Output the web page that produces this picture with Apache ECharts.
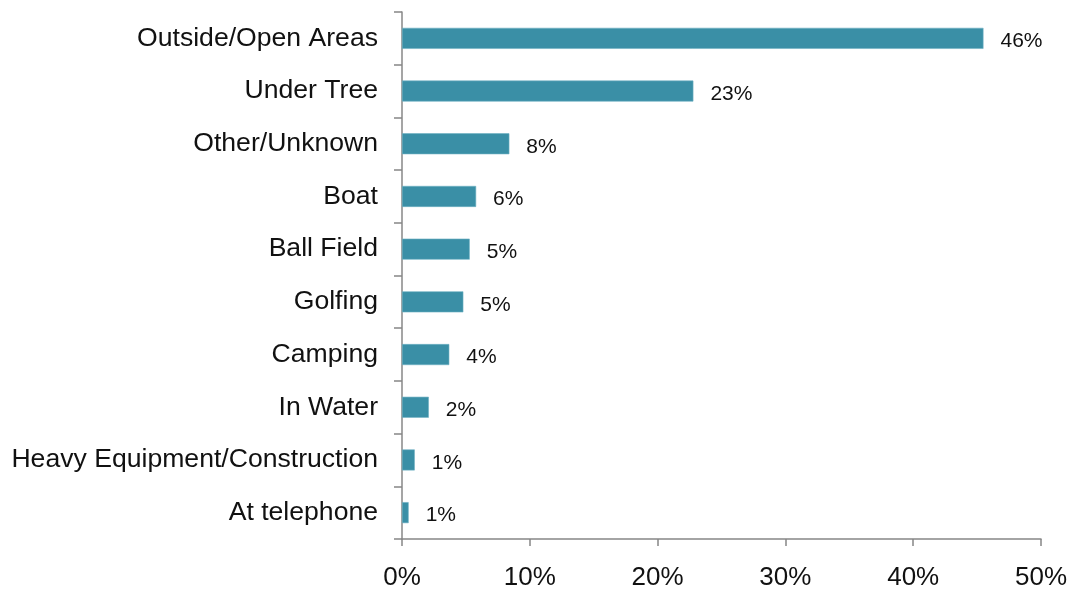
<!DOCTYPE html>
<html>
<head>
<meta charset="utf-8">
<script src="https://cdn.jsdelivr.net/npm/echarts@6/dist/echarts.min.js"></script>
<style>
html,body{margin:0;padding:0;background:#fff;}
#chart{width:1070px;height:591px;}
</style>
</head>
<body>
<div id="chart"></div>
<script>
var categories = ["Outside/Open Areas","Under Tree","Other/Unknown","Boat","Ball Field","Golfing","Camping","In Water","Heavy Equipment/Construction","At telephone"];
var values = [45.5, 22.8, 8.4, 5.8, 5.3, 4.8, 3.7, 2.1, 1.0, 0.52];
var xTicks = [0, 10, 20, 30, 40, 50];

var chart = echarts.init(document.getElementById('chart'));
var axisColor = '#878787';
chart.setOption({
  animation: false,
  grid: {left: 402, right: 28, top: 12, bottom: 51, containLabel: false},
  xAxis: {
    type: 'value',
    min: xTicks[0],
    max: xTicks[xTicks.length - 1],
    interval: 10,
    splitLine: {show: false},
    axisLine: {show: true, lineStyle: {color: axisColor, width: 1.5}},
    axisTick: {show: true, length: 7, lineStyle: {color: axisColor, width: 1.5}},
    axisLabel: {
      formatter: function (v) { return v + '%'; },
      fontFamily: 'Liberation Sans, Arial, sans-serif',
      fontSize: 26, color: '#111', margin: 26
    }
  },
  yAxis: {
    type: 'category',
    data: categories,
    inverse: true,
    axisLine: {show: true, lineStyle: {color: axisColor, width: 1.5}},
    axisTick: {show: true, length: 8, lineStyle: {color: axisColor, width: 1.5}},
    axisLabel: {
      fontFamily: 'Liberation Sans, Arial, sans-serif',
      fontSize: 26.6, color: '#111', margin: 24,
      padding: [4, 0, 0, 0]
    }
  },
  series: [{
    type: 'bar',
    data: values,
    barWidth: 21,
    itemStyle: {color: '#3A8FA6', borderColor: '#6FB0C2', borderWidth: 0.6},
    label: {
      show: true,
      position: 'right',
      distance: 17,
      offset: [0, 3],
      formatter: function (p) { return Math.round(p.value) + '%'; },
      fontFamily: 'Liberation Sans, Arial, sans-serif',
      fontSize: 21,
      color: '#111'
    }
  }]
});
</script>
</body>
</html>
